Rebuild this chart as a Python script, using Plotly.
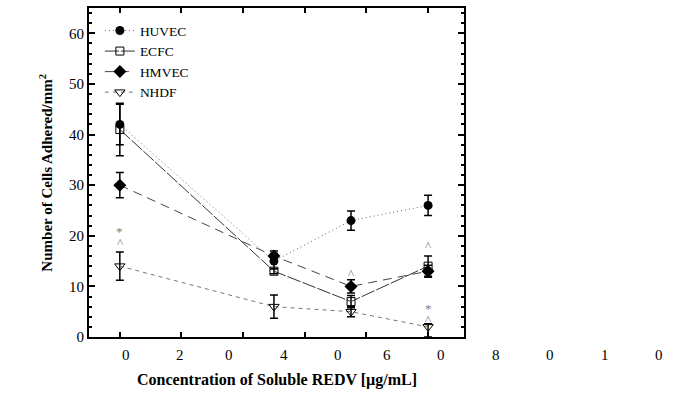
import plotly.graph_objects as go

# ---- data ----
conc = [0, 50, 75, 100]
huvec = [42, 15, 23, 26]
huvec_err = [4, 1.5, 1.9, 2]
ecfc = [41, 13, 7, 14]
ecfc_err = [5.2, 0.5, 1.2, 2]
hmvec = [30, 16, 10, 13]
hmvec_err = [2.5, 1, 1.3, 1.2]
nhdf = [14, 6, 5, 2]
nhdf_err_plus = [2.8, 2.3, 1, 0.6]
nhdf_err_minus = [2.8, 2.3, 1, 2]

sig_x = [0, 0, 75, 100, 100, 100]
sig_y = [20.8, 18.7, 12.6, 18.1, 5.6, 3.5]
sig_text = ["*", "^", "^", "^", "*", "^"]

# garbled tick labels as printed in the original
xtick_labels = ["0", "2", "0", "4", "0", "6", "0", "8", "0", "1", "0"]
xtick_step = 17.7  # spacing of printed labels in data units

XR = [-10, 111.65]
YR = [0, 65]
FONT = "Liberation Serif, Times New Roman, serif"

fig = go.Figure()

def add(name, y, err, symbol, size, dash, lcolor, mline=0, errminus=None):
    ey = dict(type="data", array=err, visible=True,
              color="black", thickness=1.5, width=4)
    if errminus is not None:
        ey["symmetric"] = False
        ey["arrayminus"] = errminus
    fig.add_trace(go.Scatter(
        x=conc, y=y, name=name, mode="lines+markers",
        line=dict(color=lcolor, width=1, dash=dash),
        marker=dict(symbol=symbol, size=size, color="black",
                    line=dict(color="black", width=mline)),
        error_y=ey,
    ))

add("HUVEC", huvec, huvec_err, "circle", 9, "1px,3px", "#666666")
add("ECFC", ecfc, ecfc_err, "square-open", 8, "14px,2px", "#333333", 1)
add("HMVEC", hmvec, hmvec_err, "diamond", 10, "9px,6px", "#444444")
add("NHDF", nhdf, nhdf_err_plus, "triangle-down-open", 9, "4px,4px", "#777777", 1,
    errminus=nhdf_err_minus)

annotations = []
for x, y, t in zip(sig_x, sig_y, sig_text):
    annotations.append(dict(x=x, y=y, xref="x", yref="y", text=t, showarrow=False,
                            font=dict(family=FONT, size=13, color="#808080")))

for i, t in enumerate(xtick_labels):
    v = i * xtick_step
    annotations.append(dict(x=(v - XR[0]) / (XR[1] - XR[0]), y=0, xref="paper", yref="paper",
                            text=t, showarrow=False, yanchor="middle", yshift=-18,
                            font=dict(family=FONT, size=15, color="black")))

annotations.append(dict(x=0.5, y=0, xref="paper", yref="paper",
                        text="<b>Concentration of Soluble REDV [µg/mL]</b>",
                        showarrow=False, yanchor="middle", yshift=-43,
                        font=dict(family=FONT, size=16, color="black")))
annotations.append(dict(x=-0.117, y=0.5, xref="paper", yref="paper",
                        text="<b>Number of Cells Adhered/mm<sup>2</sup></b>",
                        showarrow=False, textangle=-90, xanchor="center",
                        font=dict(family=FONT, size=15, color="black")))

fig.update_layout(
    width=676, height=397,
    margin=dict(l=89, r=212, t=6, b=60),
    paper_bgcolor="white", plot_bgcolor="white",
    font=dict(family=FONT, size=15, color="black"),
    showlegend=True,
    legend=dict(x=0.029, y=0.978, xanchor="left", yanchor="top",
                bgcolor="rgba(0,0,0,0)", font=dict(family=FONT, size=13.5),
                tracegroupgap=0),
    annotations=annotations,
)
fig.update_xaxes(range=XR, showgrid=False, zeroline=False,
                 showline=True, linewidth=2, linecolor="black", mirror="ticks",
                 ticks="inside", tickvals=[0, 20, 40, 60, 80, 100], ticklen=5,
                 tickwidth=2, tickcolor="black", showticklabels=False)
fig.update_yaxes(range=YR, showgrid=False, zeroline=False,
                 showline=True, linewidth=2, linecolor="black", mirror="ticks",
                 ticks="inside", dtick=10, tick0=0, ticklen=6, tickwidth=2,
                 tickcolor="black", tickfont=dict(family=FONT, size=15),
                 minor=dict(ticks="inside", dtick=2, ticklen=3, tickwidth=1.5,
                            tickcolor="black", showgrid=False))

fig.write_html("out.html", config={"displayModeBar": False},
               post_script="document.body.style.margin='0';")
